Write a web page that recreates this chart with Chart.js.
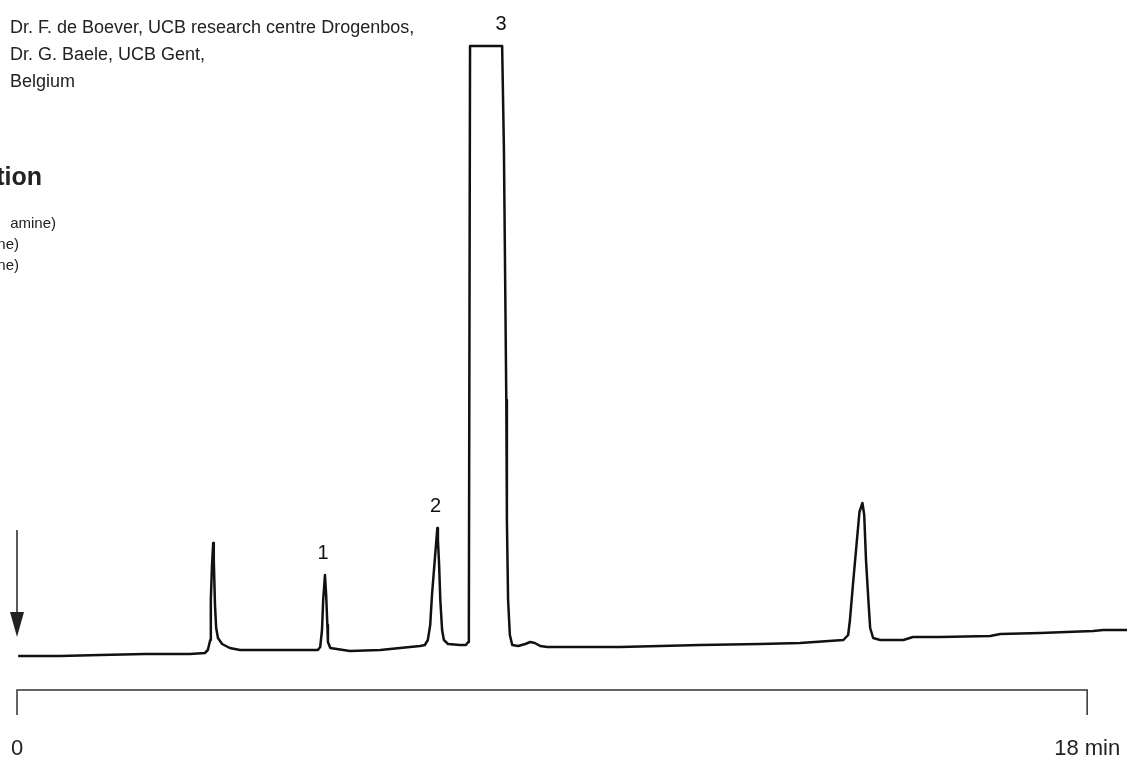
<!DOCTYPE html>
<html>
<head>
    <title>Chromatogram</title>
    <script src="https://cdn.jsdelivr.net/npm/chart.js"></script>
    <style>
        body { margin: 0; background: #fff; }
        #wrap { width: 1127px; height: 759px; position: relative; }
    </style>
</head>
<body>
    <div id="wrap"><canvas id="chromChart"></canvas></div>
    <script>
        // retention time (min) and detector signal (arbitrary units)
        const times = [0.02, 0.72, 1.40, 2.15, 2.41, 2.91, 3.16, 3.21, 3.25, 3.26, 3.28, 3.30, 3.31, 3.33, 3.35, 3.38, 3.45, 3.58, 3.75, 4.09,
            4.76, 5.06, 5.10, 5.13, 5.15, 5.18, 5.20, 5.22, 5.23, 5.27, 5.60, 6.11, 6.61, 6.78, 6.86, 6.91, 6.95, 6.98, 7.02, 7.07,
            7.08, 7.10, 7.12, 7.15, 7.18, 7.25, 7.45, 7.55, 7.59, 7.60, 7.62, 8.16, 8.19, 8.23, 8.24, 8.26, 8.29, 8.33, 8.43, 8.55,
            8.63, 8.71, 8.80, 8.92, 9.47, 10.14, 10.82, 11.49, 12.50, 13.17, 13.90, 13.98, 14.01, 14.06, 14.12, 14.17, 14.22, 14.25, 14.28, 14.32,
            14.35, 14.40, 14.52, 14.91, 15.07, 15.53, 16.37, 16.54, 17.21, 18.10, 18.27, 18.67];
        const signal = [34, 34, 35, 36, 36, 36, 37, 40, 50, 90, 125, 147, 130, 85, 62, 52, 46, 42, 40, 40,
            40, 40, 43, 60, 90, 115, 95, 65, 48, 42, 39, 40, 43, 44, 45, 50, 65, 95, 125, 162,
            150, 125, 90, 60, 50, 46, 45, 45, 48, 70, 644, 644, 540, 290, 170, 90, 55, 45, 44, 46,
            48, 47, 44, 43, 43, 43, 44, 45, 46, 47, 50, 55, 70, 105, 145, 178, 187, 175, 130, 90,
            62, 52, 50, 50, 53, 53, 54, 56, 57, 59, 60, 60];

        // numbered peaks
        const peakNames = ['1', '2', '3'];
        const peakTimes = [5.15, 7.04, 8.14];
        const peakTops = [115, 162, 644];

        // time axis
        const tickValues = [0, 18];
        const tickLabels = ['0', '18 min'];

        const headerLines = ['Dr. F. de Boever, UCB research centre Drogenbos,', 'Dr. G. Baele, UCB Gent,', 'Belgium'];

        const decor = {
            id: 'decor',
            afterDraw(chart) {
                const ctx = chart.ctx;
                const xs = chart.scales.x, ys = chart.scales.y;
                const x0 = xs.getPixelForValue(tickValues[0]);
                const x1 = xs.getPixelForValue(tickValues[1]);
                const yb = chart.chartArea.bottom;
                ctx.save();
                // time bracket
                ctx.strokeStyle = '#333';
                ctx.lineWidth = 1.5;
                ctx.beginPath();
                ctx.moveTo(x0, yb + 25);
                ctx.lineTo(x0, yb);
                ctx.lineTo(x1, yb);
                ctx.lineTo(x1, yb + 25);
                ctx.stroke();

                // tick labels
                ctx.fillStyle = '#222';
                ctx.font = '22px "Liberation Sans", Arial, sans-serif';
                ctx.textAlign = 'center';
                ctx.textBaseline = 'alphabetic';
                tickValues.forEach((v, i) => ctx.fillText(tickLabels[i], xs.getPixelForValue(v), 755));

                // injection arrow
                ctx.strokeStyle = '#222';
                ctx.lineWidth = 1.5;
                ctx.beginPath();
                ctx.moveTo(x0, 530);
                ctx.lineTo(x0, 614);
                ctx.stroke();
                ctx.beginPath();
                ctx.moveTo(x0 - 7, 612);
                ctx.lineTo(x0 + 7, 612);
                ctx.lineTo(x0, 637);
                ctx.closePath();
                ctx.fill();

                // peak numbers
                ctx.fillStyle = '#111';
                ctx.font = '20px "Liberation Sans", Arial, sans-serif';
                peakNames.forEach((n, i) => {
                    ctx.fillText(n, xs.getPixelForValue(peakTimes[i]), ys.getPixelForValue(peakTops[i]) - 16);
                });

                // header text
                ctx.fillStyle = '#222';
                ctx.textAlign = 'left';
                ctx.font = '18px "Liberation Sans", Arial, sans-serif';
                headerLines.forEach((t, i) => ctx.fillText(t, 10, 33 + i * 27));

                // text cut off at the left edge
                ctx.textAlign = 'right';
                ctx.font = 'bold 25px "Liberation Sans", Arial, sans-serif';
                ctx.fillText('tion', 42, 185);
                ctx.font = '15px "Liberation Sans", Arial, sans-serif';
                ctx.fillText('amine)', 56, 228);
                ctx.fillText('ne)', 19, 249);
                ctx.fillText('ne)', 19, 270);
                ctx.restore();
            }
        };

        new Chart(document.getElementById('chromChart'), {
            type: 'line',
            data: {
                datasets: [{
                    data: times.map((t, i) => ({ x: t, y: signal[i] })),
                    borderColor: '#111',
                    borderWidth: 2.5,
                    borderJoinStyle: 'round',
                    pointRadius: 0,
                    tension: 0,
                    fill: false,
                    clip: false
                }]
            },
            options: {
                responsive: true,
                maintainAspectRatio: false,
                animation: false,
                layout: { padding: { left: 17, right: 0, top: 0, bottom: 69 } },
                plugins: { legend: { display: false }, tooltip: { enabled: false } },
                scales: {
                    x: { type: 'linear', display: false, min: 0, max: 18.67 },
                    y: { display: false, min: 0, max: 690 }
                }
            },
            plugins: [decor]
        });
    </script>
</body>
</html>
